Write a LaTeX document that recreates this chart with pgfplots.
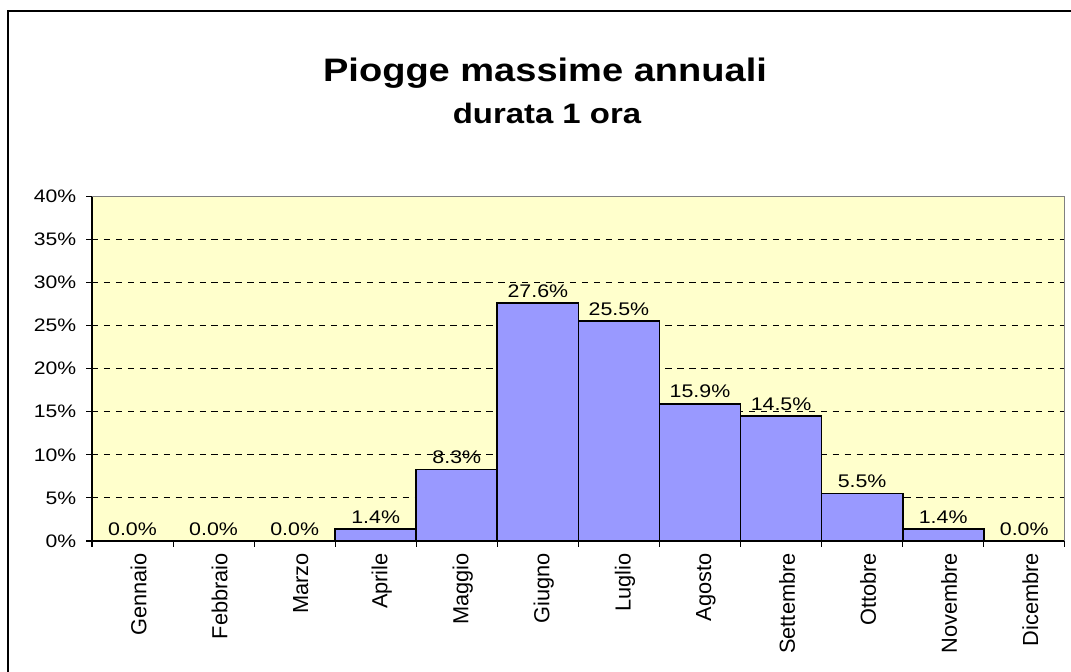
\documentclass[border=0pt]{standalone}
\usepackage{pgfplots}
\pgfplotsset{compat=1.18}
\usepackage{fontspec}
\setmainfont[FakeStretch=1.17]{Liberation Sans}
\newfontfamily\plainfont{Liberation Sans}
\definecolor{plotbg}{HTML}{FFFFCC}
\definecolor{barfill}{HTML}{9999FF}
\definecolor{plotedge}{HTML}{808080}

\begin{document}
\begin{tikzpicture}[x=0.02cm, y=0.02cm]
  \path[use as bounding box] (0,0) rectangle (1071,672);
  % outer frame (cropped at right and bottom)
  \draw[line width=1.1pt] (8,0) -- (8,661) -- (1071,661);

  \node[anchor=base, font=\fontsize{18.5}{22}\selectfont\bfseries] at (545,590) {Piogge massime annuali};
  \node[anchor=base, font=\fontsize{16}{19}\selectfont\bfseries] at (547,548) {durata 1 ora};

  \begin{axis}[
      at={(1.84cm,2.62cm)}, anchor=south west,
      scale only axis,
      width=19.46cm, height=6.9cm,
      xmin=0, xmax=12,
      ymin=0, ymax=40,
      axis lines=left,
      axis line style={-, black, line width=0.8pt},
      axis background/.style={fill=plotbg},
      ybar, bar width=1, bar shift=0pt,
      ytick={0,5,...,40},
      yticklabel={\pgfmathprintnumber{\tick}\%},
      /pgf/number format/assume math mode=true,
      ymajorgrids,
      major grid style={black, dash pattern=on 3.6pt off 3.2pt, line width=0.5pt},
      xtick={0.5,1.5,...,11.5},
      xticklabels={Gennaio,Febbraio,Marzo,Aprile,Maggio,Giugno,Luglio,Agosto,Settembre,Ottobre,Novembre,Dicembre},
      minor xtick={0,1,...,12},
      tick align=outside,
      major x tick style={draw=none},
      xtick style={black, line width=0.6pt},
      ytick style={black, line width=0.6pt},
      major tick length=3.4pt,
      minor tick length=3.4pt,
      xticklabel style={rotate=90, anchor=east, font=\plainfont\fontsize{12.4}{14}\selectfont, yshift=-3.4pt},
      yticklabel style={font=\fontsize{10.3}{12}\selectfont, xshift=-2pt},
      nodes near coords={\pgfmathprintnumber[fixed,fixed zerofill,precision=1]{\pgfplotspointmeta}\%},
      every node near coord/.append style={font=\fontsize{10.4}{12}\selectfont, anchor=south, inner sep=0pt, yshift=2.8pt},
    ]
    \addplot[fill=barfill, draw=black, line width=1pt]
      coordinates {
        (0.5,0) (1.5,0) (2.5,0) (3.5,1.4) (4.5,8.3) (5.5,27.6)
        (6.5,25.5) (7.5,15.9) (8.5,14.5) (9.5,5.5) (10.5,1.4) (11.5,0)
      };
    \draw[plotedge, line width=1.1pt] (axis cs:0,40) -- (axis cs:12,40) -- (axis cs:12,0);
  \end{axis}
\end{tikzpicture}
\end{document}
